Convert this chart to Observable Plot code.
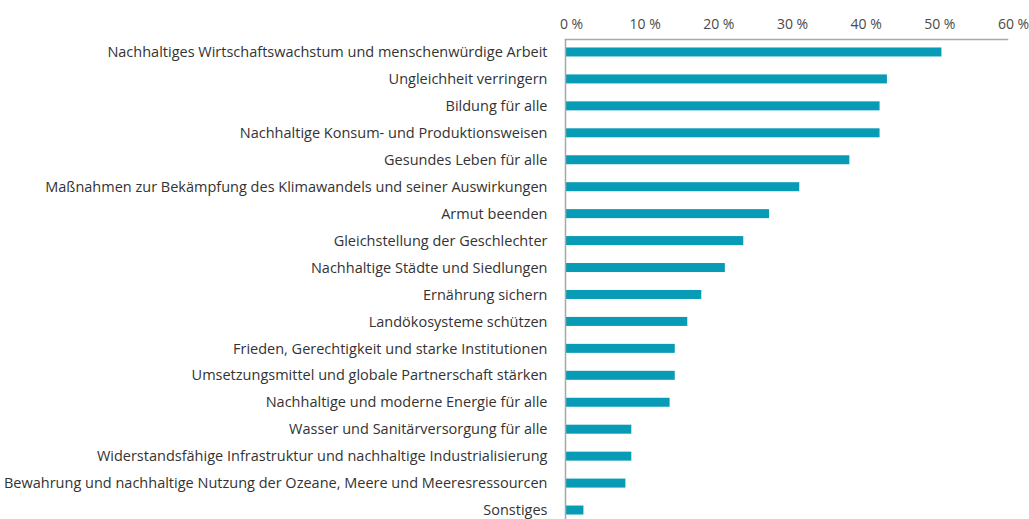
<!DOCTYPE html>
<html>
<head>
<meta charset="utf-8">
<script src="https://cdn.jsdelivr.net/npm/d3@7"></script>
<script src="https://cdn.jsdelivr.net/npm/@observablehq/plot@0.6"></script>
<style>
  html, body { margin: 0; padding: 0; background: #fff; }
  #chart svg { display: block; }
</style>
</head>
<body>
<div id="chart"></div>
<script>
const categories = [
  "Nachhaltiges Wirtschaftswachstum und menschenwürdige Arbeit",
  "Ungleichheit verringern",
  "Bildung für alle",
  "Nachhaltige Konsum- und Produktionsweisen",
  "Gesundes Leben für alle",
  "Maßnahmen zur Bekämpfung des Klimawandels und seiner Auswirkungen",
  "Armut beenden",
  "Gleichstellung der Geschlechter",
  "Nachhaltige Städte und Siedlungen",
  "Ernährung sichern",
  "Landökosysteme schützen",
  "Frieden, Gerechtigkeit und starke Institutionen",
  "Umsetzungsmittel und globale Partnerschaft stärken",
  "Nachhaltige und moderne Energie für alle",
  "Wasser und Sanitärversorgung für alle",
  "Widerstandsfähige Infrastruktur und nachhaltige Industrialisierung",
  "Bewahrung und nachhaltige Nutzung der Ozeane, Meere und Meeresressourcen",
  "Sonstiges"
];
const values = [51.1, 43.7, 42.7, 42.7, 38.6, 31.8, 27.7, 24.2, 21.7, 18.5, 16.6, 14.9, 14.9, 14.2, 9.0, 9.0, 8.2, 2.5];
const xTicks = [0, 10, 20, 30, 40, 50, 60];

const data = categories.map((c, i) => ({category: c, value: values[i]}));

const chart = Plot.plot({
  width: 1029,
  height: 519,
  marginLeft: 565,
  marginRight: 22,
  marginTop: 39,
  marginBottom: 0,
  style: {fontFamily: "'Open Sans', sans-serif", color: "#333", background: "#fff"},
  x: {domain: [0, 60]},
  y: {domain: categories, range: [38.5, 523.5], round: false, paddingInner: 0.666, paddingOuter: 0.333, label: null},
  marks: [
    Plot.barX(data, {x: "value", y: "category", fill: "#089bb6"}),
    Plot.axisX({anchor: "top", ticks: xTicks, tickFormat: d => d + " %", tickSize: 0, tickPadding: 11, dx: 6, label: null, fontSize: 14, fill: "#4a4a4a"}),
    Plot.axisY({tickSize: 0, tickPadding: 18, label: null, fontSize: 14.5, fill: "#333"}),
    Plot.ruleX([0], {stroke: "#a8a8a8", strokeWidth: 1.5}),
    Plot.frame({anchor: "top", stroke: "#a8a8a8", strokeWidth: 1.5})
  ]
});
document.getElementById("chart").appendChild(chart);
</script>
</body>
</html>
